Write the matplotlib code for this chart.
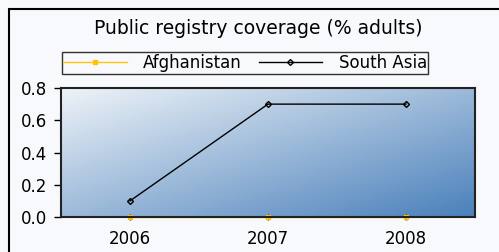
import numpy as np
import matplotlib.pyplot as plt
from matplotlib.patches import Rectangle

years = ["2006", "2007", "2008"]
afghanistan = [0.0, 0.0, 0.0]
south_asia = [0.1, 0.7, 0.7]
title = "Public registry coverage (% adults)"

W, H = 499, 252
fig = plt.figure(figsize=(W / 100, H / 100), dpi=100, facecolor="#f8f9fc")

# outer frame of the chart
fig.patches.append(Rectangle((9 / W, -0.1), 1.2, (H - 9) / H + 0.1,
                             transform=fig.transFigure, fill=False,
                             edgecolor="black", linewidth=1.5))

ax = fig.add_axes([61 / W, 1 - 217 / H, (475 - 61) / W, (217 - 88) / H])

# gradient background, light top-left to steel blue bottom-right
n = 200
gx, gy = np.meshgrid(np.linspace(0, 1, n), np.linspace(0, 1, n))
t = (gx + (1 - gy)) / 2
c0 = np.array([0xee, 0xf3, 0xf8]) / 255
c1 = np.array([0x4a, 0x80, 0xbb]) / 255
img = c0[None, None, :] * (1 - t[..., None]) + c1[None, None, :] * t[..., None]
ax.imshow(img, extent=[0, 1, 0, 1], transform=ax.transAxes, aspect="auto",
          zorder=0, interpolation="bilinear", origin="lower")

x = np.arange(len(years))
ax.plot(x, afghanistan, color="#ffc20e", marker="s", markersize=2.5,
        linewidth=1, label="Afghanistan", zorder=2, clip_on=False)
ax.plot(x, south_asia, color="black", marker="D", markersize=3,
        markerfacecolor="none", linewidth=1, label="South Asia", zorder=3)

ax.set_xlim(-0.5, 2.5)
ax.set_ylim(0, 0.8)
ax.set_xticks(x)
ax.set_xticklabels(years)
ax.set_yticks([0, 0.2, 0.4, 0.6, 0.8])
ax.set_yticklabels(["0.0", "0.2", "0.4", "0.6", "0.8"])
ax.tick_params(labelsize=12, length=5, width=1, pad=5)
ax.tick_params(axis="x", direction="inout", pad=7)
for s in ax.spines.values():
    s.set_linewidth(1.5)
    s.set_color("#222222")

fig.text(258 / W, 1 - 28 / H, title, ha="center", va="center", fontsize=13.5)
fig.legend(loc="center", bbox_to_anchor=(245 / W, 1 - 63 / H), ncol=2,
           fontsize=12, frameon=True, fancybox=False, edgecolor="black",
           facecolor="#f8f9fc", borderpad=0.1, handlelength=3.8,
           columnspacing=1.0, handletextpad=1.0, borderaxespad=0)

fig.savefig("out.png", dpi=100, facecolor=fig.get_facecolor())
